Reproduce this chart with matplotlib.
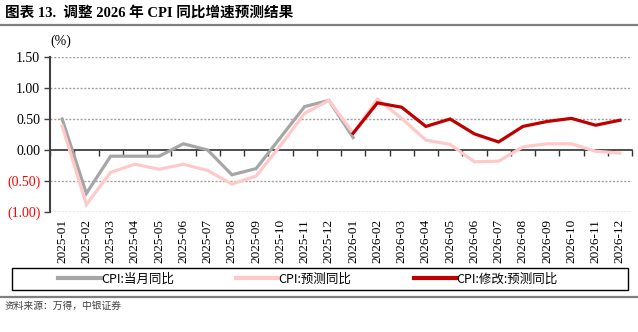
import matplotlib
matplotlib.use("Agg")
import matplotlib.pyplot as plt
from matplotlib.lines import Line2D
from matplotlib.patches import Rectangle
import numpy as np

nan = np.nan
months = ["2025-01", "2025-02", "2025-03", "2025-04", "2025-05", "2025-06",
          "2025-07", "2025-08", "2025-09", "2025-10", "2025-11", "2025-12",
          "2026-01", "2026-02", "2026-03", "2026-04", "2026-05", "2026-06",
          "2026-07", "2026-08", "2026-09", "2026-10", "2026-11", "2026-12"]
cpi_actual = [0.5, -0.7, -0.1, -0.1, -0.1, 0.1, 0.0, -0.4, -0.3, 0.2, 0.7, 0.8,
              0.2, nan, nan, nan, nan, nan, nan, nan, nan, nan, nan, nan]
cpi_forecast = [0.39, -0.88, -0.36, -0.23, -0.31, -0.23, -0.33, -0.55, -0.42, 0.07, 0.59, 0.8,
                0.27, 0.82, 0.51, 0.16, 0.09, -0.19, -0.18, 0.05, 0.10, 0.10, -0.02, -0.05]
cpi_revised = [nan, nan, nan, nan, nan, nan, nan, nan, nan, nan, nan, nan,
               0.27, 0.76, 0.69, 0.38, 0.50, 0.26, 0.13, 0.38, 0.46, 0.51, 0.40, 0.48]
yticks = [1.5, 1.0, 0.5, 0.0, -0.5, -1.0]
ytick_labels = ["1.50", "1.00", "0.50", "0.00", "(0.50)", "(1.00)"]
labels = ["CPI:当月同比", "CPI:预测同比", "CPI:修改:预测同比"]
title = "图表 13.  调整 2026 年 CPI 同比增速预测结果"
source = "资料来源：万得，中银证券"

serif = ["Liberation Serif", "Noto Sans CJK SC"]
cjk = ["Noto Sans CJK SC", "DejaVu Sans"]

fig = plt.figure(figsize=(6.38, 3.32), dpi=100)
ax = fig.add_axes([50/638, 1-212/332, 582/638, 155/332])

x = np.arange(len(months))
ax.plot(x, cpi_actual, color="#A6A6A6", lw=2.3, solid_joinstyle="miter", zorder=3)
ax.plot(x, cpi_forecast, color="#FFC9C9", lw=2.3, solid_joinstyle="miter", zorder=4)
ax.plot(x, cpi_revised, color="#C00000", lw=2.3, solid_joinstyle="miter", zorder=5)

ax.set_xlim(-0.5, len(months) - 0.5)
ax.set_ylim(-1.0, 1.5)
ax.set_yticks(yticks)
ax.set_yticklabels(ytick_labels, fontfamily=serif, fontsize=10)
for lab, v in zip(ax.get_yticklabels(), yticks):
    lab.set_color("#FF0000" if v < 0 else "#000000")
ax.tick_params(axis="y", length=4, width=1, color="#404040", pad=3)

ax.set_xticks(x)
ax.set_xticklabels(months, rotation=90, fontfamily=serif, fontsize=9.5)
ax.tick_params(axis="x", length=0, pad=5)

for v in yticks:
    if v != 0:
        ax.axhline(v, color="#A0A0A0", lw=1.0, ls=(0, (1.5, 1.2)), zorder=1)

for s in ["top", "right", "bottom"]:
    ax.spines[s].set_visible(False)
ax.spines["left"].set_color("#404040")
ax.spines["left"].set_linewidth(1.5)

sec = ax.secondary_xaxis(0, transform=ax.transData)
sec.set_xticks(np.arange(len(months) + 1) - 0.5)
sec.tick_params(axis="x", length=4, width=1, color="#303030", direction="out", labelbottom=False)
sec.spines["bottom"].set_color("#303030")
sec.spines["bottom"].set_linewidth(1.2)

ax.text(0.0, 1.06, "(%)", transform=ax.transAxes, fontfamily=serif, fontsize=10,
        ha="left", va="bottom")

# legend frame
fig.add_artist(Rectangle((12/638, 1-290/332), 616/638, 22/332, transform=fig.transFigure,
                         fill=False, edgecolor="#000000", lw=1.0))
handles = [Line2D([], [], color="#A6A6A6", lw=3),
           Line2D([], [], color="#FFC9C9", lw=3),
           Line2D([], [], color="#C00000", lw=3)]
leg = fig.legend(handles, labels, loc="center",
                 bbox_to_anchor=(308/638, 1-279/332),
                 ncol=3, frameon=False,
                 prop={"family": cjk, "size": 9}, handlelength=3.4, handletextpad=0.0,
                 columnspacing=5.0, borderpad=0, borderaxespad=0)

fig.text(5/638, 1-13/332, title, fontfamily=serif, fontweight="bold", fontsize=10.5,
         ha="left", va="center")
fig.add_artist(Line2D([0, 1], [1-25/332, 1-25/332], transform=fig.transFigure,
                      color="#7F7F7F", lw=1.6))
fig.add_artist(Line2D([0, 1], [1-297/332, 1-297/332], transform=fig.transFigure,
                      color="#7F7F7F", lw=1.6))
fig.text(5/638, 1-306/332, source, fontfamily=cjk, fontstyle="italic", fontsize=7,
         color="#404040", ha="left", va="center")

fig.savefig("out.png", dpi=100)
